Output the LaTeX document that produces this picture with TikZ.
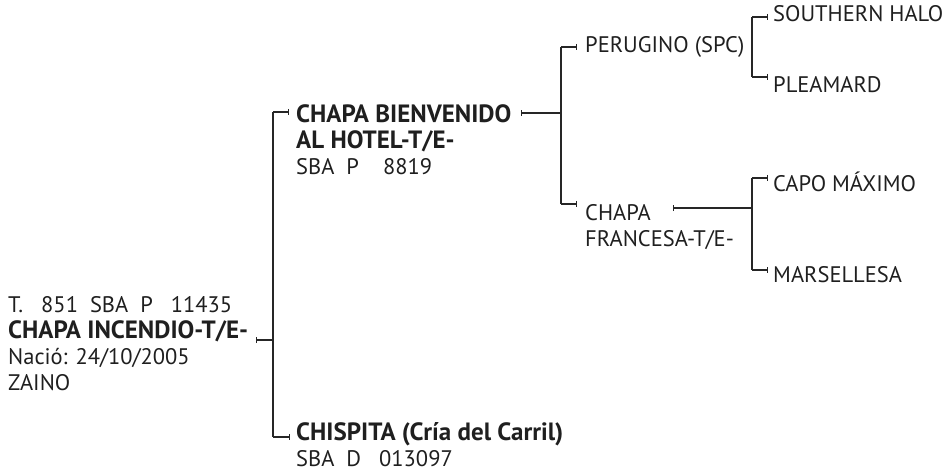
\documentclass[tikz,border=0pt]{standalone}
\usepackage{fontspec}
\setmainfont{PT Sans}
\usetikzlibrary{arrows.meta}
\tikzset{
  txt/.style={anchor=base west, inner sep=0pt, text=black!88, font=\fontsize{22.5}{26}\selectfont},
  btxt/.style={txt, font=\fontsize{25}{26}\selectfont\bfseries},
  conn/.style={line width=1.2pt, black!85},
  toleaf/.style={conn, -{Bar[width=6pt,line width=1.2pt]}},
  fromtick/.style={conn, {Bar[width=6pt,line width=1.2pt]}-},
}
\begin{document}
\begin{tikzpicture}[x=1pt,y=-1pt]
\useasboundingbox (0,0) rectangle (943,476);
% root
\node[txt] (r1) at (8,312) {T.\ \ \ 851\ \ SBA\ \ P\ \ \ 11435};
\node[btxt] (root) at (8,338) {CHAPA INCENDIO-T/E-};
\node[txt] (r3) at (8,364) {Nació: 24/10/2005};
\node[txt] (r4) at (8,390) {ZAINO};
% sire
\node[btxt] (sire) at (296,123) {CHAPA BIENVENIDO};
\node[btxt] (sire2) at (296,149) {AL HOTEL-T/E-};
\node[txt] (sire3) at (296,175) {SBA\ \ P\ \ \ \ 8819};
% dam
\node[btxt] (dam) at (296,440) {CHISPITA (Cría del Carril)};
\node[txt] (dam2) at (296,466) {SBA\ \ D\ \ \ 013097};
% grand
\node[txt] (ss) at (585,53) {PERUGINO (SPC)};
\node[txt] (sd) at (585,221) {CHAPA};
\node[txt] (sd2) at (585,247) {FRANCESA-T/E-};
% great
\node[txt] (sss) at (773,22) {SOUTHERN HALO};
\node[txt] (ssd) at (773,93) {PLEAMARD};
\node[txt] (sds) at (773,192) {CAPO MÁXIMO};
\node[txt] (sdd) at (773,282) {MARSELLESA};
% coordinates
\coordinate (rt) at (256,340);
\coordinate (rj) at (273,340);
\coordinate (ra) at (273,112);
\coordinate (rb) at (273,437);
\coordinate (ae) at (289,112);
\coordinate (be) at (290,437);
\coordinate (st) at (521,113);
\coordinate (sj) at (561,113);
\coordinate (sa) at (561,47);
\coordinate (sb) at (561,204);
\coordinate (sae) at (577,47);
\coordinate (sbe) at (577,204);
\coordinate (pa) at (752,17);
\coordinate (pb) at (752,77);
\coordinate (pae) at (768,17);
\coordinate (pbe) at (768,77);
\coordinate (ft) at (673,208);
\coordinate (fj) at (752,208);
\coordinate (fa) at (752,178);
\coordinate (fb) at (752,270);
\coordinate (fae) at (768,178);
\coordinate (fbe) at (768,270);
% connectors
\draw[fromtick] (rt) -- (rj);
\draw[conn] (ra) -- (rb);
\draw[toleaf] (ra) -- (ae);
\draw[toleaf] (rb) -- (be);
\draw[fromtick] (st) -- (sj);
\draw[conn] (sa) -- (sb);
\draw[toleaf] (sa) -- (sae);
\draw[toleaf] (sb) -- (sbe);
\draw[conn] (pa) -- (pb);
\draw[toleaf] (pa) -- (pae);
\draw[toleaf] (pb) -- (pbe);
\draw[fromtick] (ft) -- (fj);
\draw[conn] (fa) -- (fb);
\draw[toleaf] (fa) -- (fae);
\draw[toleaf] (fb) -- (fbe);
\end{tikzpicture}
\end{document}
